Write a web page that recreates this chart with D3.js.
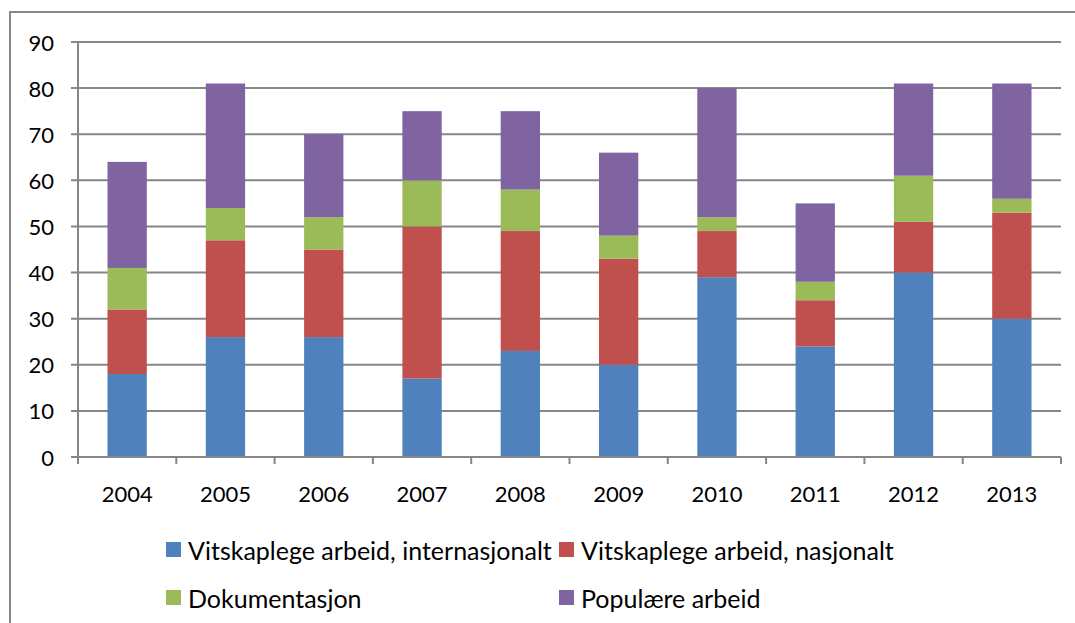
<!DOCTYPE html>
<html>
<head>
<meta charset="utf-8">
<script src="https://cdn.jsdelivr.net/npm/d3@7"></script>
<style>
  body { margin: 0; background: #fff; }
  svg { display: block; font-family: Lato, "Open Sans", sans-serif; }
</style>
</head>
<body>
<svg id="chart" width="1075" height="623"></svg>
<script>
// data
const years = ["2004", "2005", "2006", "2007", "2008", "2009", "2010", "2011", "2012", "2013"];
const seriesNames = ["Vitskaplege arbeid, internasjonalt", "Vitskaplege arbeid, nasjonalt", "Dokumentasjon", "Populære arbeid"];
const intl   = [18, 26, 26, 17, 23, 20, 39, 24, 40, 30];
const nat    = [14, 21, 19, 33, 26, 23, 10, 10, 11, 23];
const doc    = [ 9,  7,  7, 10,  9,  5,  3,  4, 10,  3];
const popular= [23, 27, 18, 15, 17, 18, 28, 17, 20, 25];
const yTicks = [0, 10, 20, 30, 40, 50, 60, 70, 80, 90];
const colors = ["#4F81BD", "#C0504D", "#9BBB59", "#8064A2"];

const svg = d3.select("#chart");
const plotLeft = 78, plotRight = 1061, plotTop = 42, plotBottom = 457;
const gridColor = "#868686";
const axisFont = 22, legendFont = 25;

// outer frame
svg.append("rect")
    .attr("x", 10).attr("y", 12)
    .attr("width", 1080).attr("height", 640)
    .attr("fill", "none")
    .attr("stroke", gridColor)
    .attr("stroke-width", 2);

const x = d3.scaleBand().domain(years).range([plotLeft, plotRight]).paddingInner(0.6).paddingOuter(0.3);
const y = d3.scaleLinear().domain([0, 90]).range([plotBottom, plotTop]);

const rows = years.map((yr, i) => ({year: yr, s0: intl[i], s1: nat[i], s2: doc[i], s3: popular[i]}));
const stack = d3.stack().keys(["s0", "s1", "s2", "s3"])(rows);

// gridlines + y ticks
svg.append("g").selectAll("line").data(yTicks).join("line")
    .attr("x1", plotLeft - 7).attr("x2", plotRight)
    .attr("y1", d => y(d)).attr("y2", d => y(d))
    .attr("stroke", gridColor).attr("stroke-width", 2);

svg.append("g").selectAll("text").data(yTicks).join("text")
    .attr("x", 54).attr("y", d => y(d))
    .attr("text-anchor", "end")
    .attr("dominant-baseline", "central")
    .attr("font-size", axisFont)
    .attr("fill", "#000")
    .text(d => d);

// y axis line
svg.append("line")
    .attr("x1", plotLeft).attr("x2", plotLeft)
    .attr("y1", plotTop).attr("y2", plotBottom)
    .attr("stroke", gridColor).attr("stroke-width", 2);

// bars
svg.append("g").selectAll("g").data(stack).join("g")
    .attr("fill", (d, i) => colors[i])
    .selectAll("rect").data(d => d).join("rect")
    .attr("x", d => x(d.data.year))
    .attr("width", x.bandwidth())
    .attr("y", d => y(d[1]))
    .attr("height", d => y(d[0]) - y(d[1]));

// x axis with ticks at category boundaries
const bounds = d3.range(years.length + 1).map(i => plotLeft + i * (plotRight - plotLeft) / years.length);
svg.append("line")
    .attr("x1", plotLeft).attr("x2", plotRight)
    .attr("y1", plotBottom).attr("y2", plotBottom)
    .attr("stroke", gridColor).attr("stroke-width", 2);
svg.append("g").selectAll("line").data(bounds).join("line")
    .attr("x1", d => d).attr("x2", d => d)
    .attr("y1", plotBottom).attr("y2", plotBottom + 7)
    .attr("stroke", gridColor).attr("stroke-width", 2);

svg.append("g").selectAll("text").data(years).join("text")
    .attr("x", d => x(d) + x.bandwidth() / 2)
    .attr("y", 493)
    .attr("text-anchor", "middle")
    .attr("dominant-baseline", "central")
    .attr("font-size", axisFont)
    .attr("fill", "#000")
    .text(d => d);

// legend
const legendPos = [[166, 549], [559, 549], [166, 597], [559, 597]];
const legend = svg.append("g").selectAll("g").data(seriesNames).join("g")
    .attr("transform", (d, i) => `translate(${legendPos[i][0]},${legendPos[i][1]})`);
legend.append("rect")
    .attr("x", 0).attr("y", -7)
    .attr("width", 15).attr("height", 15)
    .attr("fill", (d, i) => colors[i]);
legend.append("text")
    .attr("x", 22).attr("y", 1)
    .attr("dominant-baseline", "central")
    .attr("font-size", legendFont)
    .attr("fill", "#000")
    .text(d => d);
</script>
</body>
</html>
